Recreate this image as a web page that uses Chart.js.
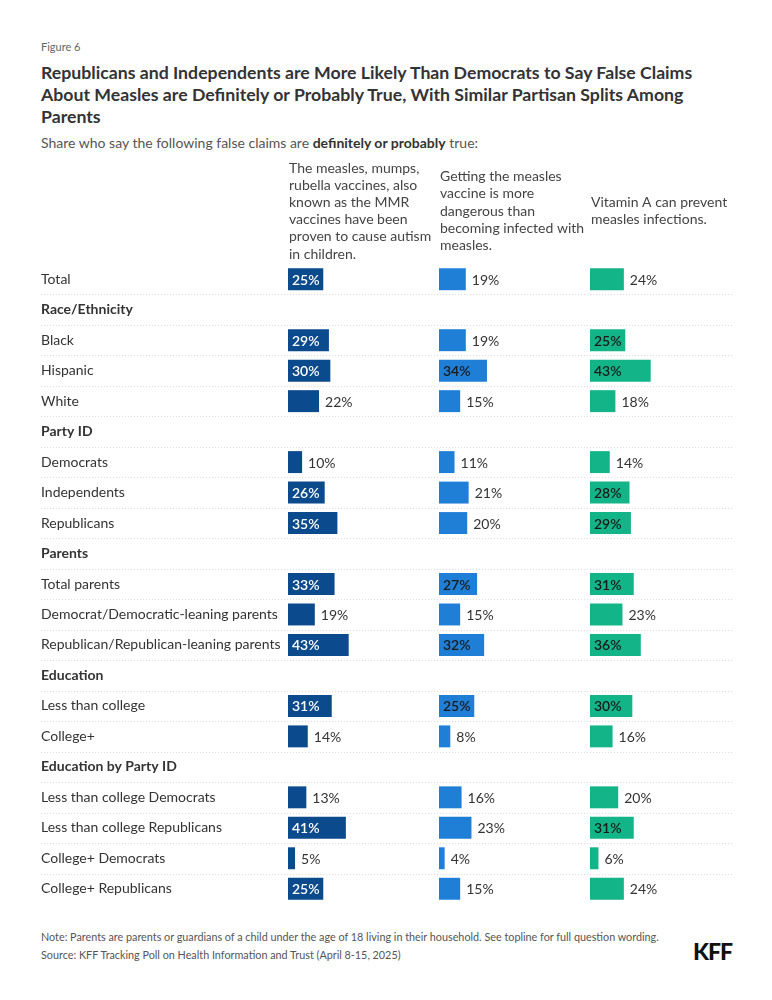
<!DOCTYPE html>
<html>
<head>
<meta charset="utf-8">
<script src="https://cdn.jsdelivr.net/npm/chart.js@4.4.1/dist/chart.umd.min.js"></script>
<style>
  body { margin: 0; background: #fff; font-family: Lato, 'Noto Sans', sans-serif; color: #333; }
  .page { position: relative; width: 772px; height: 1000px; }
  .fig { position: absolute; left: 41px; top: 40px; font-size: 11px; color: #666; }
  .title { position: absolute; left: 41px; top: 62px; width: 725px; font-size: 17.7px; font-weight: 700; line-height: 22px; color: #333; }
  .sub { position: absolute; left: 41px; top: 134px; font-size: 14px; color: #555; }
  .sub b { color: #333; }
  .wrap { position: absolute; left: 0; top: 155px; width: 772px; height: 760px; }
  .note { position: absolute; left: 41px; top: 928px; font-size: 10.8px; line-height: 18px; color: #555; }
  .logo { position: absolute; right: 40px; top: 937px; font-size: 23px; font-weight: 900; color: #111; letter-spacing: -1px; }
</style>
</head>
<body>
<div class="page">
  <div class="fig">Figure 6</div>
  <div class="title">Republicans and Independents are More Likely Than Democrats to Say False Claims<br>About Measles are Definitely or Probably True, With Similar Partisan Splits Among<br>Parents</div>
  <div class="sub">Share who say the following false claims are <b>definitely or probably</b> true:</div>
  <div class="wrap"><canvas id="chart"></canvas></div>
  <div class="note">Note: Parents are parents or guardians of a child under the age of 18 living in their household. See topline for full question wording.<br>Source: KFF Tracking Poll on Health Information and Trust (April 8-15, 2025)</div>
  <div class="logo">KFF</div>
</div>
<script>
// Row labels, section headers get no bars
const categories = [
  'Total',
  'Race/Ethnicity', 'Black', 'Hispanic', 'White',
  'Party ID', 'Democrats', 'Independents', 'Republicans',
  'Parents', 'Total parents', 'Democrat/Democratic-leaning parents', 'Republican/Republican-leaning parents',
  'Education', 'Less than college', 'College+',
  'Education by Party ID', 'Less than college Democrats', 'Less than college Republicans', 'College+ Democrats', 'College+ Republicans',
];
const headerRows = ['Race/Ethnicity', 'Party ID', 'Parents', 'Education', 'Education by Party ID'];

const claimTitles = [
  ['The measles, mumps,', 'rubella vaccines, also', 'known as the MMR', 'vaccines have been', 'proven to cause autism', 'in children.'],
  ['Getting the measles', 'vaccine is more', 'dangerous than', 'becoming infected with', 'measles.'],
  ['Vitamin A can prevent', 'measles infections.'],
];

const mmrAutism     = [25, null, 29, 30, 22, null, 10, 26, 35, null, 33, 19, 43, null, 31, 14, null, 13, 41, 5, 25];
const vaccineDanger = [19, null, 19, 34, 15, null, 11, 21, 20, null, 27, 15, 32, null, 25, 8, null, 16, 23, 4, 15];
const vitaminA      = [24, null, 25, 43, 18, null, 14, 28, 29, null, 31, 23, 36, null, 30, 16, null, 20, 31, 6, 24];

const COLORS = ['#0b4a8c', '#1f7fd6', '#13b588'];
const INSIDE_TEXT = ['#ffffff', '#1a1a1a', '#1a1a1a'];
const FONT = 'Lato, "Noto Sans", sans-serif';

// dotted row separators, extend under the labels too (none under the last row)
const rowLines = {
  id: 'rowLines',
  beforeDatasetsDraw(chart) {
    const { ctx } = chart;
    const y = chart.scales.y;
    ctx.save();
    ctx.strokeStyle = '#dedede';
    ctx.lineWidth = 1;
    ctx.setLineDash([1, 2]);
    for (let i = 0; i < categories.length - 1; i++) {
      const yy = Math.round((y.getPixelForValue(i) + y.getPixelForValue(i + 1)) / 2) + 0.5;
      ctx.beginPath();
      ctx.moveTo(41, yy);
      ctx.lineTo(732, yy);
      ctx.stroke();
    }
    ctx.restore();
  },
};

// column headers + value labels
const annotate = {
  id: 'annotate',
  afterDatasetsDraw(chart) {
    const { ctx, chartArea } = chart;
    ctx.save();
    ctx.textBaseline = 'middle';
    ctx.textAlign = 'left';
    ['x0', 'x1', 'x2'].forEach((id, k) => {
      const sc = chart.scales[id];
      const lines = claimTitles[k];
      const lh = 17.2;
      const mid = chartArea.top - 53;
      ctx.font = '14px ' + FONT;
      ctx.fillStyle = '#444';
      lines.forEach((t, j) => {
        ctx.fillText(t, sc.left + 1, mid + (j - (lines.length - 1) / 2) * lh);
      });
    });
    chart.data.datasets.forEach((ds, k) => {
      const meta = chart.getDatasetMeta(k);
      meta.data.forEach((bar, i) => {
        const v = ds.data[i];
        if (v == null) return;
        const txt = v + '%';
        if (v >= 25) {
          ctx.font = '600 14px ' + FONT;
          ctx.fillStyle = INSIDE_TEXT[k];
          ctx.fillText(txt, bar.base + 4, bar.y + 1);
        } else {
          ctx.font = '14px ' + FONT;
          ctx.fillStyle = '#333';
          ctx.fillText(txt, bar.x + 6, bar.y + 1);
        }
      });
    });
    ctx.restore();
  },
};

const xAxis = () => ({
  type: 'linear',
  position: 'bottom',
  stack: 'cols',
  stackWeight: 1,
  min: 0,
  max: 107,
  display: false,
});

new Chart(document.getElementById('chart'), {
  type: 'bar',
  data: {
    labels: categories,
    datasets: [mmrAutism, vaccineDanger, vitaminA].map((d, k) => ({
      data: d,
      xAxisID: 'x' + k,
      backgroundColor: COLORS[k],
      grouped: false,
      barPercentage: 0.72,
      categoryPercentage: 1,
    })),
  },
  options: {
    indexAxis: 'y',
    responsive: true,
    maintainAspectRatio: false,
    animation: false,
    layout: { padding: { left: 41, right: 31, top: 109, bottom: 11 } },
    plugins: { legend: { display: false }, tooltip: { enabled: false } },
    scales: {
      x0: xAxis(),
      x1: xAxis(),
      x2: xAxis(),
      y: {
        position: 'left',
        grid: { display: false },
        border: { display: false },
        afterFit: (s) => { s.width = 247; },
        ticks: {
          crossAlign: 'far',
          padding: 0,
          color: '#333',
          font: (c) => ({
            family: FONT,
            size: 14,
            weight: headerRows.includes(categories[c.index]) ? 'bold' : 'normal',
          }),
        },
      },
    },
  },
  plugins: [rowLines, annotate],
});
</script>
</body>
</html>
